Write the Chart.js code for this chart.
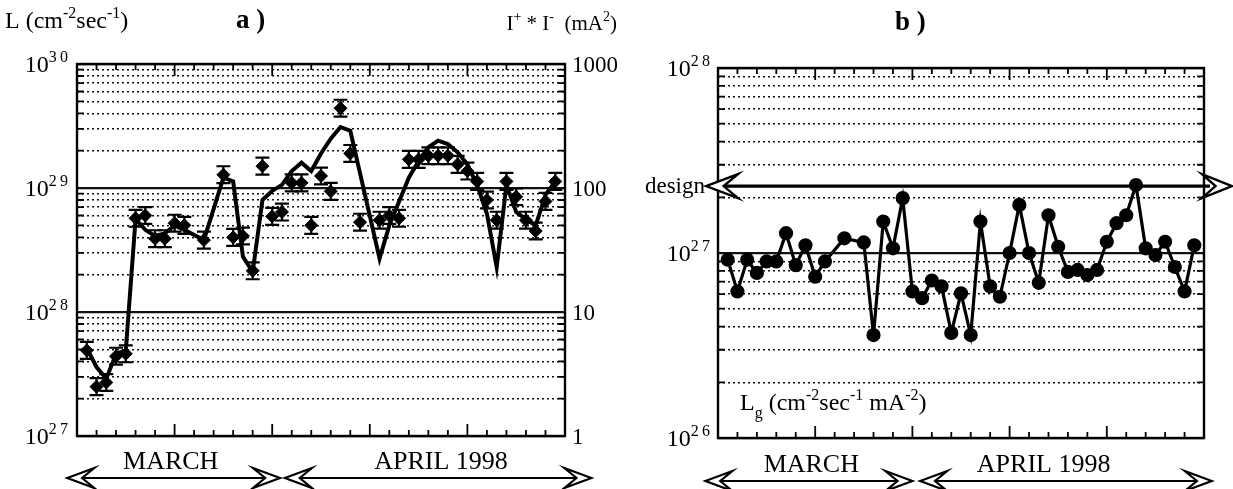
<!DOCTYPE html>
<html>
<head>
<meta charset="utf-8">
<script src="https://cdn.jsdelivr.net/npm/chart.js@4.4.1/dist/chart.umd.min.js"></script>
<style>
  html, body { margin: 0; padding: 0; background: #fff; }
  #wrap { position: relative; width: 1233px; height: 489px; }
  #wrap canvas { position: absolute; left: 0; top: 0; }
</style>
</head>
<body>
<div id="wrap">
  <canvas id="chartA" width="1233" height="489"></canvas>
  <canvas id="chartB" width="1233" height="489"></canvas>
</div>
<script>
// x values are day numbers along the plot (0..50, ticks every 2 days)

// a) measured luminosity L (cm^-2 s^-1), diamonds with error bars
const lumDays = [1, 2, 3, 4, 5, 6, 7, 8, 9, 10, 11, 13, 15, 16, 17, 18, 19, 20, 21, 22, 23, 24, 25,
  26, 27, 28, 29, 31, 32, 33, 34, 35, 36, 37, 38, 39, 40, 41, 42, 43, 44, 45, 46, 47, 48, 49];
const lumValues = [4.9e27, 2.5e27, 2.7e27, 4.4e27, 4.6e27, 5.7e28, 6.0e28, 3.9e28, 3.9e28, 5.2e28,
  5.0e28, 3.8e28, 1.28e29, 4.0e28, 4.1e28, 2.15e28, 1.5e29, 5.9e28, 6.4e28, 1.1e29, 1.1e29, 5.0e28,
  1.25e29, 9.4e28, 4.4e29, 1.9e29, 5.3e28, 5.5e28, 6.0e28, 5.7e28, 1.7e29, 1.7e29, 1.82e29, 1.82e29,
  1.82e29, 1.55e29, 1.37e29, 1.13e29, 8.0e28, 5.5e28, 1.13e29, 8.5e28, 5.5e28, 4.5e28, 7.8e28, 1.13e29];
const lumRelErr = 0.17;

// a) beam current product I+ * I- (mA^2), solid curve
const currDays = [1, 2, 3, 4, 5, 6, 7, 8, 9, 10, 11, 13, 15, 16, 17, 18, 19, 20, 21, 22, 23, 24, 25,
  26, 27, 28, 31, 32, 33, 34, 35, 36, 37, 38, 39, 40, 41, 42, 43, 44, 45, 46, 47, 48, 49];
const currValues = [5.1, 3.6, 2.9, 4.6, 4.9, 56, 46, 41, 43, 50, 46, 38, 121, 113, 28, 21, 80, 95, 106,
  137, 160, 137, 190, 250, 310, 290, 27, 50, 78, 121, 165, 213, 241, 226, 194, 155, 105, 62, 23, 106,
  64, 56, 50, 88, 113];

// b) specific luminosity Lg (cm^-2 s^-1 mA^-2)
const specDays = [1, 2, 3, 4, 5, 6, 7, 8, 9, 10, 11, 13, 15, 16, 17, 18, 19, 20, 21, 22, 23, 24, 25,
  26, 27, 28, 29, 30, 31, 32, 33, 34, 35, 36, 37, 38, 39, 40, 41, 42, 43, 44, 45, 46, 47, 48, 49];
const specValues = [9.2e26, 6.2e26, 9.2e26, 7.8e26, 9.0e26, 9.0e26, 1.28e27, 8.6e26, 1.10e27, 7.45e26,
  9.0e26, 1.20e27, 1.14e27, 3.6e26, 1.48e27, 1.06e27, 1.98e27, 6.2e26, 5.7e26, 7.1e26, 6.6e26, 3.7e26,
  6.05e26, 3.6e26, 1.48e27, 6.6e26, 5.8e26, 1.0e27, 1.82e27, 1.0e27, 6.9e26, 1.6e27, 1.08e27, 7.9e26,
  8.1e26, 7.6e26, 8.1e26, 1.15e27, 1.45e27, 1.6e27, 2.33e27, 1.06e27, 9.75e26, 1.15e27, 8.4e26,
  6.2e26, 1.10e27];
const designLg = 2.3e27;

// tick labels
const lumTickExps = [27, 28, 29, 30];
const currTickValues = [1, 10, 100, 1000];
const currTickLabels = ['1', '10', '100', '1000'];
const specTickExps = [26, 27, 28];

const FONT = '"Liberation Serif", "Times New Roman", serif';

function isDecade(v) {
  const l = Math.log10(v);
  return Math.abs(l - Math.round(l)) < 1e-6;
}

// 1..9 x 10^n ticks so every minor log line is drawn
function logGrid(lo, hi) {
  const out = [];
  for (let e = lo; e < hi; e++) {
    for (let m = 1; m < 10; m++) out.push({ value: m * Math.pow(10, e) });
  }
  out.push({ value: Math.pow(10, hi) });
  return out;
}

function logAxis(lo, hi, position) {
  return {
    type: 'logarithmic',
    position: position,
    min: Math.pow(10, lo),
    max: Math.pow(10, hi),
    afterBuildTicks: (s) => { s.ticks = logGrid(lo, hi); },
    afterFit: (s) => { s.width = 0; },
    ticks: { display: false, autoSkip: false },
    grid: {
      color: '#111',
      lineWidth: (c) => (c.tick && isDecade(c.tick.value) ? 2.2 : 1.6),
      drawTicks: false
    },
    border: {
      display: false,
      dash: (c) => (c.tick && !isDecade(c.tick.value) ? [2, 3] : [])
    }
  };
}

function pts(xs, ys) {
  return xs.map((d, i) => ({ x: d, y: ys[i] }));
}

// text with superscripts (mode 1) and subscripts (mode -1)
function drawRich(ctx, x, y, parts, align, size, bold) {
  const base = (bold ? 'bold ' : '') + size + 'px ' + FONT;
  const small = Math.round(size * 0.66) + 'px ' + FONT;
  let w = 0;
  parts.forEach(([t, m]) => { ctx.font = m ? small : base; w += ctx.measureText(t).width; });
  let cx = align === 'right' ? x - w : align === 'center' ? x - w / 2 : x;
  ctx.textAlign = 'left';
  ctx.textBaseline = 'alphabetic';
  ctx.fillStyle = '#000';
  parts.forEach(([t, m]) => {
    ctx.font = m ? small : base;
    const dy = m === 1 ? -size * 0.42 : m === -1 ? size * 0.32 : 0;
    ctx.fillText(t, cx, y + dy);
    cx += ctx.measureText(t).width;
  });
}

function hollowHead(ctx, tipX, y, dir, len, half) {
  ctx.beginPath();
  ctx.moveTo(tipX, y);
  ctx.lineTo(tipX + dir * len, y - half);
  ctx.lineTo(tipX + dir * len * 0.55, y);
  ctx.lineTo(tipX + dir * len, y + half);
  ctx.closePath();
  ctx.fillStyle = '#fff';
  ctx.fill();
  ctx.stroke();
}

function doubleArrow(ctx, x1, x2, y) {
  ctx.save();
  ctx.strokeStyle = '#000';
  ctx.lineWidth = 2.2;
  ctx.beginPath();
  ctx.moveTo(x1 + 14, y);
  ctx.lineTo(x2 - 14, y);
  ctx.stroke();
  hollowHead(ctx, x1, y, 1, 27, 10);
  hollowHead(ctx, x2, y, -1, 27, 10);
  ctx.restore();
}

// box, inward ticks on all four sides
function drawFrame(chart, yScale) {
  const ctx = chart.ctx;
  const a = chart.chartArea;
  const x = chart.scales.x;
  ctx.save();
  ctx.strokeStyle = '#000';
  ctx.lineWidth = 1.8;
  for (let d = 0; d <= 50; d += 2) {
    const px = x.getPixelForValue(d);
    const len = d % 10 === 0 ? 12 : 6;
    ctx.beginPath();
    ctx.moveTo(px, a.bottom); ctx.lineTo(px, a.bottom - len);
    ctx.moveTo(px, a.top); ctx.lineTo(px, a.top + len);
    ctx.stroke();
  }
  yScale.ticks.forEach((t) => {
    if (isDecade(t.value)) return;
    const py = yScale.getPixelForValue(t.value);
    ctx.beginPath();
    ctx.moveTo(a.left, py); ctx.lineTo(a.left + 7, py);
    ctx.moveTo(a.right, py); ctx.lineTo(a.right - 7, py);
    ctx.stroke();
  });
  ctx.lineWidth = 2.4;
  ctx.strokeRect(a.left, a.top, a.right - a.left, a.bottom - a.top);
  ctx.restore();
}

function monthSpans(chart, spans) {
  const ctx = chart.ctx;
  const x = chart.scales.x;
  spans.forEach((s) => {
    doubleArrow(ctx, x.getPixelForValue(s.from), x.getPixelForValue(s.to), s.arrowY);
    drawRich(ctx, x.getPixelForValue(s.mid), s.textY, [[s.text, 0]], 'center', 26, false);
  });
}

const errorBarsA = {
  id: 'errorBarsA',
  beforeDatasetsDraw(chart) {
    const ctx = chart.ctx;
    const x = chart.scales.x;
    const y = chart.scales.y;
    ctx.save();
    ctx.strokeStyle = '#000';
    ctx.lineWidth = 2.2;
    lumDays.forEach((d, i) => {
      const px = x.getPixelForValue(d);
      const hi = y.getPixelForValue(lumValues[i] * (1 + lumRelErr));
      const lo = y.getPixelForValue(lumValues[i] / (1 + lumRelErr));
      ctx.beginPath();
      ctx.moveTo(px, hi); ctx.lineTo(px, lo);
      ctx.moveTo(px - 7, hi); ctx.lineTo(px + 7, hi);
      ctx.moveTo(px - 7, lo); ctx.lineTo(px + 7, lo);
      ctx.stroke();
    });
    ctx.restore();
  }
};

const decorA = {
  id: 'decorA',
  afterDraw(chart) {
    const ctx = chart.ctx;
    const a = chart.chartArea;
    const y = chart.scales.y;
    const y1 = chart.scales.y1;
    drawFrame(chart, y);
    lumTickExps.forEach((e) => {
      const py = y.getPixelForValue(Math.pow(10, e));
      drawRich(ctx, a.left - 9, py + 8, [['10', 0], [String(e).split('').join('\u2009'), 1]], 'right', 24, false);
    });
    currTickValues.forEach((v, i) => {
      const py = y1.getPixelForValue(v);
      drawRich(ctx, a.right + 7, py + 8, [[currTickLabels[i], 0]], 'left', 23, false);
    });
    drawRich(ctx, 5, 28, [['L (cm', 0], ['-2', 1], ['sec', 0], ['-1', 1], [')', 0]], 'left', 24, false);
    drawRich(ctx, 236, 28, [['a )', 0]], 'left', 27, true);
    drawRich(ctx, 617, 30, [['I', 0], ['+', 1], [' * I', 0], ['-', 1], ['  (mA', 0], ['2', 1], [')', 0]], 'right', 21, false);
    monthSpans(chart, [
      { text: 'MARCH', from: -1.0, to: 20.8, mid: 9.6, arrowY: 478, textY: 469 },
      { text: 'APRIL 1998', from: 21.3, to: 52.7, mid: 37.3, arrowY: 478, textY: 469 }
    ]);
  }
};

const decorB = {
  id: 'decorB',
  afterDraw(chart) {
    const ctx = chart.ctx;
    const a = chart.chartArea;
    const y = chart.scales.y;
    drawFrame(chart, y);
    specTickExps.forEach((e) => {
      const py = y.getPixelForValue(Math.pow(10, e));
      drawRich(ctx, a.left - 8, py + 8, [['10', 0], [String(e).split('').join('\u2009'), 1]], 'right', 24, false);
    });
    drawRich(ctx, 895, 30, [['b )', 0]], 'left', 27, true);
    drawRich(ctx, a.left + 22, 410, [['L', 0], ['g', -1], [' (cm', 0], ['-2', 1], ['sec', 0], ['-1', 1],
      [' mA', 0], ['-2', 1], [')', 0]], 'left', 24, false);

    // design value line with open arrow heads
    const py = y.getPixelForValue(designLg);
    ctx.save();
    ctx.strokeStyle = '#000';
    ctx.lineWidth = 3.2;
    ctx.beginPath();
    ctx.moveTo(a.left - 4, py);
    ctx.lineTo(a.right + 6, py);
    ctx.stroke();
    ctx.lineWidth = 2.4;
    hollowHead(ctx, a.left - 12, py, 1, 32, 12);
    hollowHead(ctx, a.right + 28, py, -1, 30, 12);
    ctx.restore();
    drawRich(ctx, a.left - 13, py + 7, [['design', 0]], 'right', 23, false);

    monthSpans(chart, [
      { text: 'MARCH', from: -1.3, to: 20.0, mid: 9.6, arrowY: 481, textY: 472 },
      { text: 'APRIL 1998', from: 20.8, to: 50.8, mid: 33.5, arrowY: 481, textY: 472 }
    ]);
  }
};

const common = {
  responsive: false,
  animation: false,
  events: [],
  plugins: { legend: { display: false }, tooltip: { enabled: false } }
};

new Chart(document.getElementById('chartA'), {
  type: 'line',
  data: {
    datasets: [
      {
        label: 'I+ * I- (mA^2)',
        data: pts(currDays, currValues),
        yAxisID: 'y1',
        borderColor: '#000',
        borderWidth: 4,
        pointRadius: 0,
        tension: 0,
        fill: false
      },
      {
        label: 'L',
        data: pts(lumDays, lumValues),
        yAxisID: 'y',
        showLine: false,
        pointStyle: 'rectRot',
        pointRadius: 6.5,
        backgroundColor: '#000',
        borderColor: '#000'
      }
    ]
  },
  options: Object.assign({}, common, {
    layout: { padding: { left: 77, right: 1233 - 565, top: 64, bottom: 489 - 436 } },
    scales: {
      x: { type: 'linear', min: 0, max: 50, display: false },
      y: logAxis(27, 30, 'left'),
      y1: { type: 'logarithmic', position: 'right', min: 1, max: 1000, display: false }
    }
  }),
  plugins: [errorBarsA, decorA]
});

new Chart(document.getElementById('chartB'), {
  type: 'line',
  data: {
    datasets: [
      {
        label: 'Lg',
        data: pts(specDays, specValues),
        yAxisID: 'y',
        borderColor: '#000',
        backgroundColor: '#000',
        borderWidth: 3.2,
        pointRadius: 5.5,
        tension: 0,
        fill: false
      }
    ]
  },
  options: Object.assign({}, common, {
    layout: { padding: { left: 718, right: 1233 - 1204, top: 68, bottom: 489 - 438 } },
    scales: {
      x: { type: 'linear', min: 0, max: 50, display: false },
      y: logAxis(26, 28, 'left')
    }
  }),
  plugins: [decorB]
});
</script>
</body>
</html>
